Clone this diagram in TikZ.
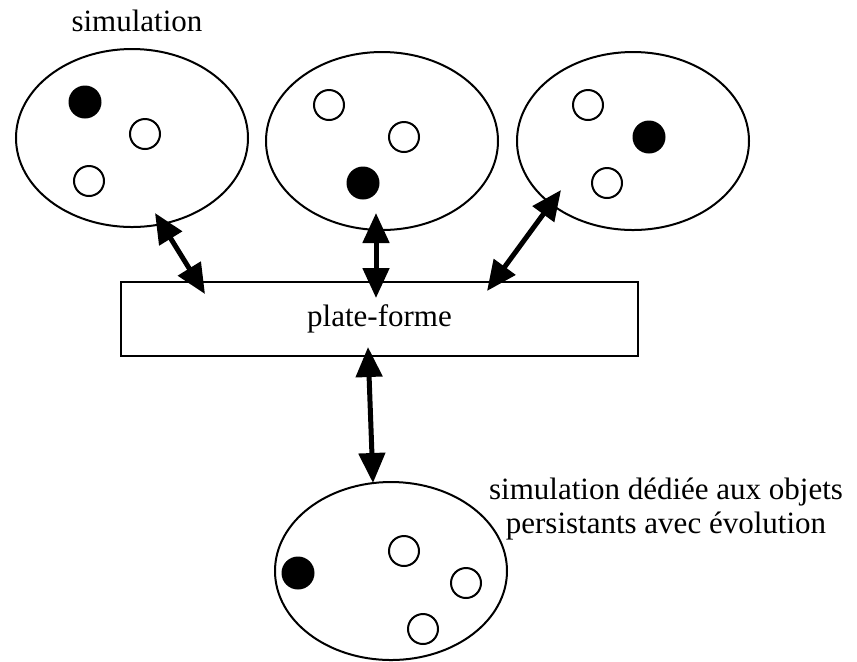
\documentclass[tikz,border=0pt]{standalone}
\usepackage{fontspec}
\setmainfont{Liberation Serif}
\usetikzlibrary{shapes.geometric, arrows.meta}

\tikzset{
  simu/.style={draw, ellipse, line width=1pt, inner sep=0pt, minimum width=116pt, minimum height=89pt},
  pion/.style={draw, circle, line width=1pt, inner sep=0pt, minimum size=15pt},
  pionplein/.style={fill=black, circle, inner sep=0pt, minimum size=16.5pt},
  lien/.style={line width=2.5pt, {Triangle[length=15pt, width=13pt]}-{Triangle[length=15pt, width=13pt]}}
}

\begin{document}
\begin{tikzpicture}[x=0.5pt, y=-0.5pt, font=\fontsize{15.5pt}{17pt}\selectfont]
    \useasboundingbox (0,0) rectangle (857,661);

    % Three simulations on top
    \node[simu] (s1) at (132,138) {};
    \node[simu] (s2) at (382,141) {};
    \node[simu] (s3) at (633,141) {};
    \node[anchor=base] (titre) at (137,31) {simulation};

    % Objects inside each simulation
    \node[pionplein] (o11) at (85,102) {};
    \node[pion] (o12) at (145,134) {};
    \node[pion] (o13) at (89,181) {};

    \node[pion] (o21) at (329,105) {};
    \node[pion] (o22) at (404,137) {};
    \node[pionplein] (o23) at (363,183) {};

    \node[pion] (o31) at (588,105) {};
    \node[pionplein] (o32) at (649,137) {};
    \node[pion] (o33) at (607,183) {};

    % Platform
    \node[draw, line width=1pt, minimum width=258.5pt, minimum height=37pt] (pf) at (379.5,319) {plate-forme};

    % Dedicated simulation below
    \node[simu] (s4) at (391,571) {};
    \node[pionplein] (o41) at (298,573) {};
    \node[pion] (o42) at (404,551) {};
    \node[pion] (o43) at (466,583) {};
    \node[pion] (o44) at (423,629) {};
    \node[align=center, anchor=north, inner sep=0pt] (legende) at (666,478)
      {simulation dédiée aux objets\\persistants avec évolution};

    % Arrow ends
    \coordinate (s1-pf) at (155,213);
    \coordinate (pf-s1) at (205,294);
    \coordinate (s2-pf) at (376,213);
    \coordinate (pf-s2) at (376,298);
    \coordinate (s3-pf) at (561,190);
    \coordinate (pf-s3) at (487,291);
    \coordinate (pf-s4) at (368,347);
    \coordinate (s4-pf) at (373,483);

    % Exchanges with the platform
    \draw[lien] (s1-pf) -- (pf-s1);
    \draw[lien] (s2-pf) -- (pf-s2);
    \draw[lien] (s3-pf) -- (pf-s3);
    \draw[lien] (pf-s4) -- (s4-pf);
\end{tikzpicture}
\end{document}
